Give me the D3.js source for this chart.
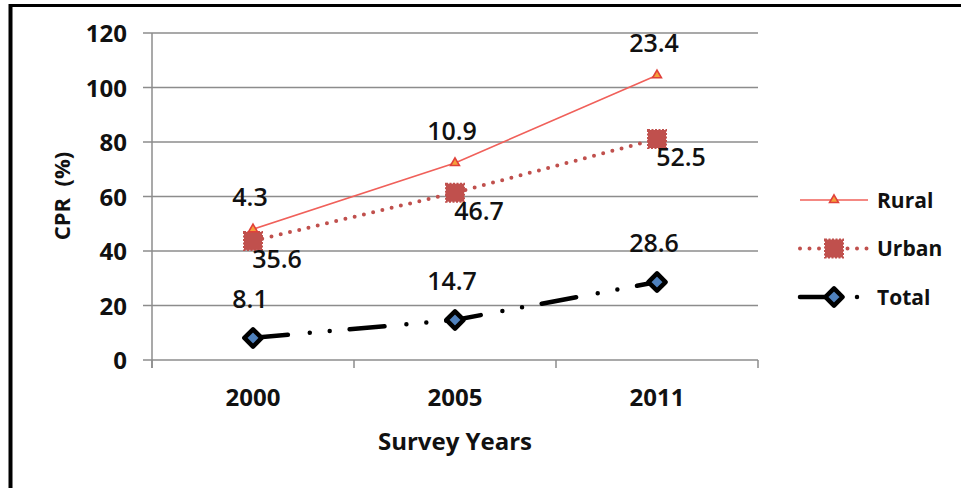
<!DOCTYPE html>
<html>
<head>
<meta charset="utf-8">
<script src="https://cdn.jsdelivr.net/npm/d3@7"></script>
<style>
  body { margin: 0; background: #fff; }
  svg text { font-family: "Open Sans", "DejaVu Sans", sans-serif; fill: #111; }
</style>
</head>
<body>
<svg id="cpr-chart" width="961" height="488"></svg>
<script>
// survey years and CPR values per group (stacked in the chart)
const years = ["2000", "2005", "2011"];
const totalVals = [8.1, 14.7, 28.6];
const urbanVals = [35.6, 46.7, 52.5];
const ruralVals = [4.3, 10.9, 23.4];
const yTicks = [0, 20, 40, 60, 80, 100, 120];
const legendNames = ["Rural", "Urban", "Total"];

const svg = d3.select("#cpr-chart");
const margin = { top: 33, left: 152, right: 203, bottom: 128 };
const width = +svg.attr("width");
const height = +svg.attr("height");

// frame (top + left edge of the original picture)
svg.append("line").attr("x1", 9).attr("x2", 961).attr("y1", 5.5).attr("y2", 5.5)
  .attr("stroke", "#000").attr("stroke-width", 3);
svg.append("line").attr("x1", 10.5).attr("x2", 10.5).attr("y1", 4).attr("y2", 488)
  .attr("stroke", "#000").attr("stroke-width", 4);

const data = years.map((yr, i) => ({
  year: yr, total: totalVals[i], urban: urbanVals[i], rural: ruralVals[i]
}));

const stack = d3.stack().keys(["total", "urban", "rural"]);
const series = stack(data);

const x = d3.scaleBand()
  .domain(years)
  .range([margin.left, width - margin.right]);
const cx = d => x(d) + x.bandwidth() / 2;

const y = d3.scaleLinear()
  .domain([0, 120])
  .range([height - margin.bottom, margin.top]);

const axisFont = "24px";

// gridlines
svg.append("g")
  .selectAll("line")
  .data(yTicks)
  .join("line")
  .attr("x1", margin.left - 9)
  .attr("x2", width - margin.right)
  .attr("y1", d => y(d))
  .attr("y2", d => y(d))
  .attr("stroke", "#8c8c8c")
  .attr("stroke-width", 1.5);

// y axis
const yAxis = d3.axisLeft(y).tickValues(yTicks).tickSize(0).tickPadding(25);
const yG = svg.append("g")
  .attr("transform", `translate(${margin.left},0)`)
  .call(yAxis);
yG.select(".domain").attr("stroke", "#8c8c8c").attr("stroke-width", 1.5)
  .attr("d", `M0,${margin.top}V${y(0) + 8}`);
yG.selectAll("text")
  .style("font-size", axisFont).style("font-weight", "bold")
  .attr("dy", "0.36em");

// x axis
const xAxis = d3.axisBottom(x).tickSize(0).tickPadding(29);
const xG = svg.append("g")
  .attr("transform", `translate(0,${y(0)})`)
  .call(xAxis);
xG.select(".domain").remove();
xG.selectAll("text")
  .style("font-size", axisFont).style("font-weight", "bold")
  .attr("dy", "0.71em");
xG.selectAll(".band-tick")
  .data(d3.range(years.length + 1))
  .join("line")
  .attr("class", "band-tick")
  .attr("x1", i => margin.left + i * x.bandwidth())
  .attr("x2", i => margin.left + i * x.bandwidth())
  .attr("y1", 0).attr("y2", 8)
  .attr("stroke", "#8c8c8c").attr("stroke-width", 1.5);

// axis titles
svg.append("text")
  .attr("x", (margin.left + width - margin.right) / 2)
  .attr("y", 450)
  .attr("text-anchor", "middle")
  .style("font-size", "24px").style("font-weight", "bold")
  .text("Survey Years");

svg.append("text")
  .attr("transform", `translate(70,196) rotate(-90)`)
  .attr("text-anchor", "middle")
  .style("font-size", "22px").style("font-weight", "bold")
  .style("white-space", "pre")
  .attr("xml:space", "preserve")
  .text("CPR  (%)");

const line = d3.line()
  .x(d => cx(d.data.year))
  .y(d => y(d[1]));

const byKey = {};
series.forEach(s => { byKey[s.key] = s; });

const ruralColor = "#f0605a";
const urbanColor = "#c0504d";
const totalDash = "35,22,0,20,0,20";

// marker helpers
const diamond = d3.symbol().type(d3.symbolDiamond2).size(190);
const triangle = d3.symbol().type(d3.symbolTriangle).size(34);

function drawTotalMarker(sel) {
  sel.attr("d", diamond).attr("fill", "#4f81bd")
    .attr("stroke", "#000").attr("stroke-width", 4.5).attr("stroke-linejoin", "round");
}
function drawUrbanMarker(sel) {
  sel.attr("width", 18).attr("height", 18).attr("x", -9).attr("y", -9)
    .attr("fill", urbanColor).attr("stroke", urbanColor)
    .attr("stroke-width", 2).attr("stroke-dasharray", "2,1.5");
}
function drawRuralMarker(sel) {
  sel.attr("d", triangle).attr("fill", "#f5a03a")
    .attr("stroke", "#e0403a").attr("stroke-width", 1.6);
}

// Total line
svg.append("path")
  .datum(byKey.total)
  .attr("d", line)
  .attr("fill", "none")
  .attr("stroke", "#000")
  .attr("stroke-width", 4.5)
  .attr("stroke-linecap", "round")
  .attr("stroke-dasharray", totalDash);
svg.append("g").selectAll("path")
  .data(byKey.total)
  .join("path")
  .attr("transform", d => `translate(${cx(d.data.year)},${y(d[1])})`)
  .call(drawTotalMarker);

// Urban line
svg.append("path")
  .datum(byKey.urban)
  .attr("d", line)
  .attr("fill", "none")
  .attr("stroke", urbanColor)
  .attr("stroke-width", 4)
  .attr("stroke-linecap", "round")
  .attr("stroke-dasharray", "0,9.5");
svg.append("g").selectAll("rect")
  .data(byKey.urban)
  .join("rect")
  .attr("transform", d => `translate(${cx(d.data.year)},${y(d[1])})`)
  .call(drawUrbanMarker);

// Rural line
svg.append("path")
  .datum(byKey.rural)
  .attr("d", line)
  .attr("fill", "none")
  .attr("stroke", ruralColor)
  .attr("stroke-width", 1.6);
svg.append("g").selectAll("path")
  .data(byKey.rural)
  .join("path")
  .attr("transform", d => `translate(${cx(d.data.year)},${y(d[1])})`)
  .call(drawRuralMarker);

// data labels
function labels(key, dx, dy) {
  svg.append("g").selectAll("text")
    .data(byKey[key])
    .join("text")
    .attr("x", d => cx(d.data.year) + dx)
    .attr("y", d => y(d[1]) + dy)
    .attr("text-anchor", "middle")
    .style("font-size", "25px")
    .style("font-weight", 600)
    .text(d => d.data[key]);
}
labels("rural", -3, -23);
labels("urban", 24, 27);
labels("total", -3, -30);

// legend
const legend = svg.append("g").attr("transform", "translate(800,200)");
const legendItems = legend.selectAll("g")
  .data(legendNames)
  .join("g")
  .attr("transform", (d, i) => `translate(0,${i * 48.5})`);

legendItems.append("text")
  .attr("x", 77)
  .attr("dy", "0.36em")
  .style("font-size", "21px").style("font-weight", "bold")
  .text(d => d);

const lgRural = legendItems.filter(d => d === "Rural");
lgRural.append("line").attr("x1", 0).attr("x2", 68)
  .attr("stroke", ruralColor).attr("stroke-width", 1.6);
lgRural.append("path").attr("transform", "translate(34,0)").call(drawRuralMarker);

const lgUrban = legendItems.filter(d => d === "Urban");
lgUrban.append("line").attr("x1", 0).attr("x2", 68)
  .attr("stroke", urbanColor).attr("stroke-width", 4)
  .attr("stroke-linecap", "round").attr("stroke-dasharray", "0,9.5");
lgUrban.append("rect").attr("transform", "translate(34,0)").call(drawUrbanMarker);

const lgTotal = legendItems.filter(d => d === "Total");
lgTotal.append("line").attr("x1", 0).attr("x2", 68)
  .attr("stroke", "#000").attr("stroke-width", 4.5)
  .attr("stroke-linecap", "round").attr("stroke-dasharray", totalDash);
lgTotal.append("path").attr("transform", "translate(34,0)").call(drawTotalMarker);
</script>
</body>
</html>
